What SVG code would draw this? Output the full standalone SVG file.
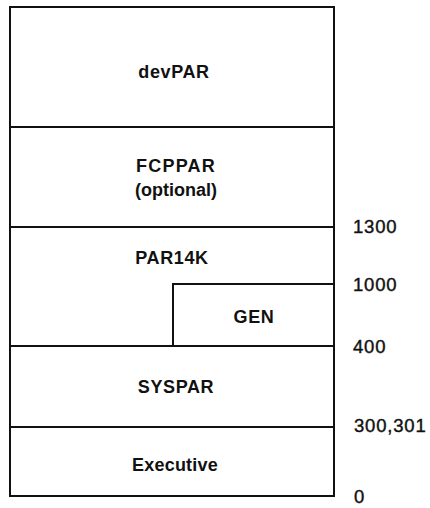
<svg xmlns="http://www.w3.org/2000/svg" width="430" height="508" viewBox="0 0 430 508">
<style>
.box{fill:none;stroke:#111;stroke-width:2}
.lbl{font-family:"Liberation Sans",Arial,sans-serif;font-size:18px;font-weight:bold;fill:#111;text-anchor:middle;letter-spacing:0.6px}
.num{font-family:"Liberation Sans",Arial,sans-serif;font-size:18.5px;fill:#111;stroke:#111;stroke-width:0.4;letter-spacing:0.8px}
</style>
<rect width="430" height="508" fill="#fff"/>
<g id="devPAR">
<rect class="box" x="10" y="7" width="324" height="120"/>
<text class="lbl" x="174" y="78">devPAR</text>
</g>
<g id="FCPPAR">
<rect class="box" x="10" y="127" width="324" height="100"/>
<text class="lbl" x="176" y="172" style="letter-spacing:1.2px">FCPPAR</text>
<text class="lbl" x="176" y="196" style="letter-spacing:0">(optional)</text>
</g>
<g id="PAR14K">
<path class="box" d="M10,227 H334 V284 H173 V346 H10 Z"/>
<text class="lbl" x="172" y="264">PAR14K</text>
</g>
<g id="GEN">
<rect class="box" x="173" y="284" width="161" height="62"/>
<text class="lbl" x="254" y="323">GEN</text>
</g>
<g id="SYSPAR">
<rect class="box" x="10" y="346" width="324" height="81"/>
<text class="lbl" x="176" y="393">SYSPAR</text>
</g>
<g id="Executive">
<rect class="box" x="10" y="427" width="324" height="69"/>
<text class="lbl" x="175" y="471" style="letter-spacing:0.2px">Executive</text>
</g>
<g id="addresses">
<text class="num" x="353" y="233">1300</text>
<text class="num" x="353" y="291">1000</text>
<text class="num" x="353" y="353">400</text>
<text class="num" x="354" y="432">300,301</text>
<text class="num" x="354" y="503">0</text>
</g>
<g id="connectors"></g>
</svg>
